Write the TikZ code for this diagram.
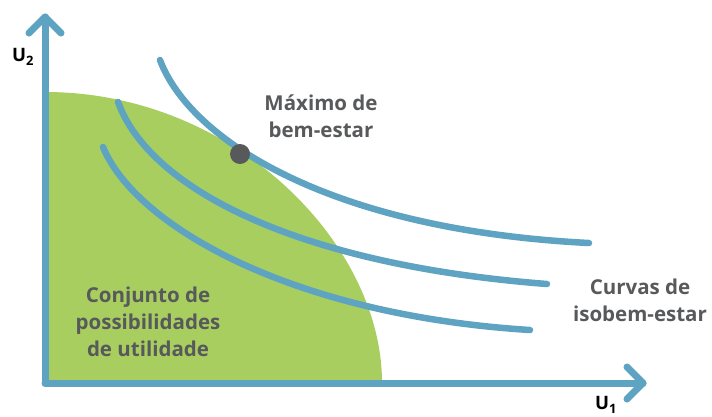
\documentclass[tikz,border=0pt]{standalone}
\usepackage{fontspec}
\setmainfont{Open Sans}
\usetikzlibrary{arrows.meta}
\definecolor{axisblue}{HTML}{5EA3C1}
\definecolor{areagreen}{HTML}{A8CE60}
\definecolor{txtgray}{HTML}{58595B}
\tikzset{
  axis/.style={line width=7pt, axisblue, line cap=round, line join=round},
  curve/.style={line width=6.5pt, axisblue, line cap=round},
  lbl/.style={font=\bfseries\fontsize{20.5}{27}\selectfont, text=txtgray, align=center, inner sep=0pt},
  axlbl/.style={font=\bfseries\fontsize{18.5}{20}\selectfont, text=black, inner sep=0pt}
}
\begin{document}
\begin{tikzpicture}[x=1pt,y=-1pt]
\useasboundingbox (0,0) rectangle (712,416);
% green region
\fill[areagreen] (45,384) -- (45,92) .. controls (235,92) and (383,245) .. (382,384) -- cycle;
% curves
\draw[curve] (160,60) .. controls (190,140) and (330,230) .. (589,243);
\draw[curve] (118,102) .. controls (150,190) and (300,265) .. (547,284);
\draw[curve] (103,147) .. controls (135,225) and (290,315) .. (530,330);
% axes
\coordinate (o) at (45,383);
\coordinate (ytip) at (45,17);
\coordinate (xtip) at (643,383);
\draw[axis] (o) -- (ytip);
\draw[axis] (o) -- (xtip);
\draw[axis] (29,33) -- (ytip) -- (61,33);
\draw[axis] (627,367) -- (xtip) -- (627,399);
% dot
\node[circle, fill=txtgray, minimum size=20pt, inner sep=0pt] (max) at (240,154) {};
% labels
\node[lbl] (maxl) at (321,116) {Máximo de\\bem-estar};
\node[lbl] (curv) at (640,300) {Curvas de\\isobem-estar};
\node[lbl] (conj) at (148,322) {Conjunto de\\possibilidades\\de utilidade};
\node[axlbl] (u2) at (23,57) {U\textsubscript{2}};
\node[axlbl] (u1) at (606,405) {U\textsubscript{1}};
\end{tikzpicture}
\end{document}
